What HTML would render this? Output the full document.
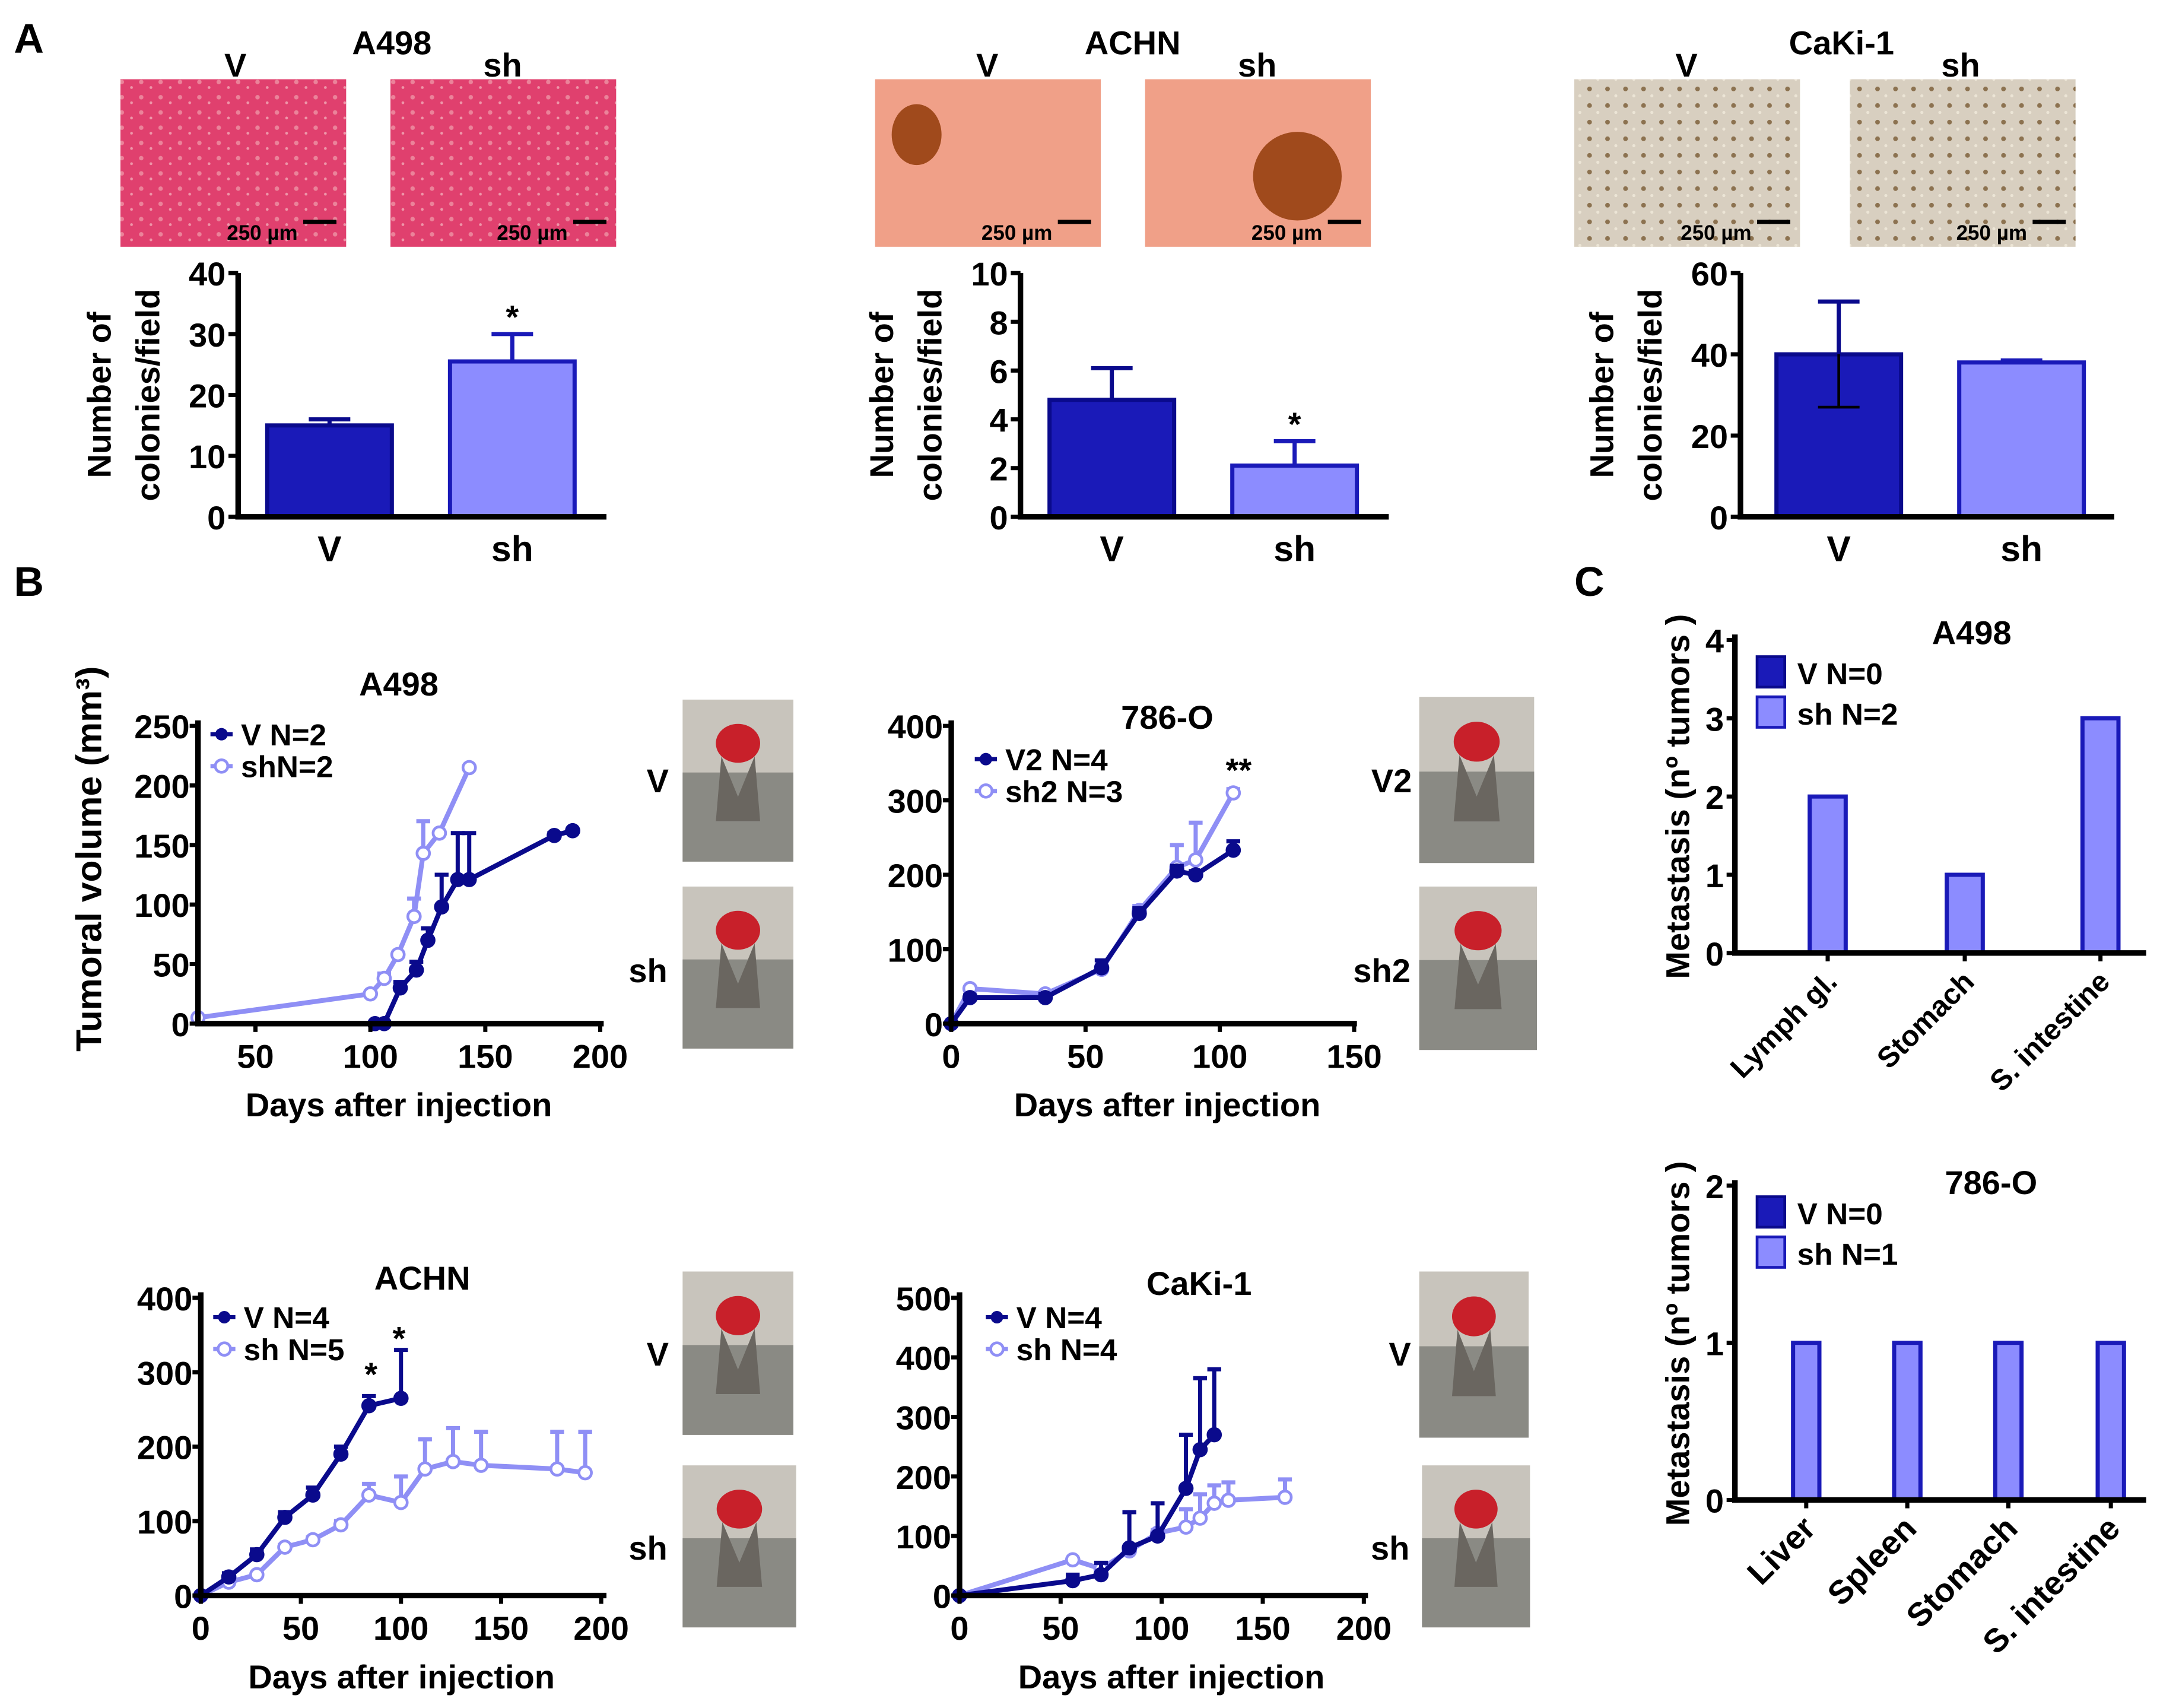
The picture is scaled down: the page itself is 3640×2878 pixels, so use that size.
<!DOCTYPE html>
<html><head><meta charset="utf-8"><style>
html,body{margin:0;padding:0;background:#fff}
svg{display:block}
text{font-family:"Liberation Sans Narrow","Liberation Sans",sans-serif;font-weight:bold;fill:#000}
</style></head><body>
<svg id="fig" width="3640" height="2878" viewBox="0 0 1560 1233" xmlns="http://www.w3.org/2000/svg">
<defs>
<pattern id="dots1" width="14" height="11" patternUnits="userSpaceOnUse"><circle cx="4" cy="4" r="1.6" fill="#f3b0b8"/><circle cx="11" cy="8" r="1" fill="#f8d0d0"/></pattern>
<pattern id="dots2" width="13" height="12" patternUnits="userSpaceOnUse"><circle cx="4" cy="4" r="1.7" fill="#6b4a20"/><circle cx="10" cy="9" r="1.1" fill="#f5efe0"/></pattern>
</defs>
<g id="root"></g>
</svg>
<script>
// ---- Panel A bar data ----
const barCats = ["V","sh"];
const a498Vals = [15, 25.5];
const a498Err = [16, 30];
const achnVals = [4.8, 2.1];
const achnErr = [6.1, 3.1];
const cakiVals = [40, 38];
const cakiErr = [53, 38.5];
const a498Ticks = [0,10,20,30,40];
const achnTicks = [0,2,4,6,8,10];
const cakiTicks = [0,20,40,60];

// ---- Panel B growth data ----
const bA498Vx = [102,106,113,120,125,131,138,143,180,188];
const bA498Vy = [0,0,30,45,70,98,121,121,158,162];
const bA498Ve = [0,0,35,52,80,125,160,160,160,162];
const bA498Sx = [25,100,106,112,119,123,130,143];
const bA498Sy = [5,25,38,58,90,143,160,215];
const bA498Se = [5,25,42,58,105,170,160,215];
const b786Vx = [0,7,35,56,70,84,91,105];
const b786Vy = [0,35,35,75,148,205,200,233];
const b786Ve = [0,38,40,85,155,212,205,245];
const b786Sx = [0,7,35,56,70,84,91,105];
const b786Sy = [0,47,40,73,152,210,220,310];
const b786Se = [0,47,42,78,158,240,270,315];
const bAchnVx = [0,14,28,42,56,70,84,100];
const bAchnVy = [0,25,55,105,135,190,255,265];
const bAchnVe = [0,30,62,112,145,200,268,330];
const bAchnSx = [0,14,28,42,56,70,84,100,112,126,140,178,192];
const bAchnSy = [0,18,28,65,75,95,135,125,170,180,175,170,165];
const bAchnSe = [0,20,30,68,78,100,150,160,210,225,220,220,220];
const bCakiVx = [0,56,70,84,98,112,119,126];
const bCakiVy = [0,25,35,80,100,180,245,270];
const bCakiVe = [0,35,55,140,155,270,365,380];
const bCakiSx = [0,56,70,84,98,112,119,126,133,161];
const bCakiSy = [0,60,45,75,105,115,130,155,160,165];
const bCakiSe = [0,60,50,80,110,145,170,185,190,195];

// ---- Panel C metastasis ----
const cA498Cats = ["Lymph gl.","Stomach","S. intestine"];
const cA498Vals = [2,1,3];
const c786Cats = ["Liver","Spleen","Stomach","S. intestine"];
const c786Vals = [1,1,1,1];

const NS="http://www.w3.org/2000/svg";
const root=document.getElementById('root');
const DARK="#1a1ab8", DARKL="#0a0a8c", LIGHT="#8c8cff", LIGHTL="#8f8ff5";
function el(tag,attrs,parent,txt){const e=document.createElementNS(NS,tag);for(const k in attrs)e.setAttribute(k,attrs[k]);if(txt!==undefined)e.textContent=txt;(parent||root).appendChild(e);return e;}
function txt(x,y,s,size,parent,anchor,rot){const t=el('text',{x:x,y:y,'font-size':size,'text-anchor':anchor||'middle'},parent,s);if(rot)t.setAttribute('transform','rotate('+rot+' '+x+' '+y+')');return t;}

// Panel letters
txt(10,38,"A",30,root,'start');
txt(10,430,"B",30,root,'start');
txt(1137,430,"C",30,root,'start');

// photos
function photo(x,y,w,h,kind,name){
  const g=el('g',{});
  
  
  if(kind==='pink'){el('rect',{x:x,y:y,width:w,height:h,fill:'#e0406e'},g);el('rect',{x:x,y:y,width:w,height:h,fill:'url(#dots1)',opacity:0.6},g);}
  else if(kind==='orange'){el('rect',{x:x,y:y,width:w,height:h,fill:'#f0a088'},g);}
  else if(kind==='gray'){el('rect',{x:x,y:y,width:w,height:h,fill:'#d8cfc0'},g);el('rect',{x:x,y:y,width:w,height:h,fill:'url(#dots2)',opacity:0.7},g);}
  else {el('rect',{x:x,y:y,width:w,height:h,fill:'#c8c4bc'},g);el('rect',{x:x,y:y+h*0.45,width:w,height:h*0.55,fill:'#8a8a84'},g);el('path',{d:`M${x+w*0.3} ${y+h*0.75} L${x+w*0.35} ${y+h*0.35} L${x+w*0.5} ${y+h*0.6} L${x+w*0.65} ${y+h*0.35} L${x+w*0.7} ${y+h*0.75}Z`,fill:'#6a6660'},g);el('ellipse',{cx:x+w*0.5,cy:y+h*0.27,rx:w*0.2,ry:h*0.12,fill:'#c8202a'},g);}
  return g;
}
const micro=[[87,57,'pink'],[282,57,'pink'],[632,57,'orange'],[827,57,'orange'],[1137,57,'gray'],[1336,57,'gray']];
micro.forEach((m,i)=>{const g=photo(m[0],m[1],163,121,m[2],'colony-photo-'+i);
  el('line',{x1:m[0]+132,y1:m[1]+103,x2:m[0]+156,y2:m[1]+103,stroke:'#000','stroke-width':3},g);
  txt(m[0]+128,m[1]+116,"250 µm",15,g,'end');
  if(m[2]==='orange'){el('ellipse',{cx:m[0]+(i===3?110:30),cy:m[1]+(i===3?70:40),rx:i===3?32:18,ry:i===3?32:22,fill:'#a04a1c'},g);}
});
[[170,"V"],[283,"A498"],[363,"sh"],[713,"V"],[818,"ACHN"],[908,"sh"],[1218,"V"],[1330,"CaKi-1"],[1416,"sh"]].forEach((l,i)=>{txt(l[0],i%3===1?39:55,l[1],24);});
const tumors=[[493,505,80,117],[493,640,80,117],[1025,503,83,120],[1025,640,85,118],[493,918,80,118],[493,1058,82,117],[1025,918,79,120],[1027,1058,78,117]];
tumors.forEach((t,i)=>photo(t[0],t[1],t[2],t[3],'tumor','tumor-photo-'+i));
[[475,572,"V"],[468,709,"sh"],[1005,572,"V2"],[998,709,"sh2"],[475,986,"V"],[468,1126,"sh"],[1011,986,"V"],[1004,1126,"sh"]].forEach((l,i)=>{txt(l[0],l[1],l[2],24);});

// ---- bar charts ----
function barChart(ax,x0,x1,y0,y1,ticks,vals,errs,barX,name,stars,twoSided){
  const g=el('g',{});
  
  
  const maxT=ticks[ticks.length-1];
  const sy=v=>y0-(v/maxT)*(y0-y1);
  vals.forEach((v,i)=>{
    const bx=barX[i];
    const top=sy(errs[i]);
    const ew=el('line',{x1:bx+45,y1:sy(v),x2:bx+45,y2:top,stroke:i?DARK:DARKL,'stroke-width':3},g);
    el('line',{x1:bx+30,y1:top,x2:bx+60,y2:top,stroke:i?DARK:DARKL,'stroke-width':3},g);
    const r=el('rect',{x:bx,y:sy(v),width:90,height:y0-sy(v),fill:i?LIGHT:DARK,stroke:i?DARK:DARKL,'stroke-width':3},g);
    
    
    if(twoSided&&i===0){const lo=sy(2*v-errs[i]);el('line',{x1:bx+45,y1:sy(v),x2:bx+45,y2:lo,stroke:'#000','stroke-width':2},g);el('line',{x1:bx+30,y1:lo,x2:bx+60,y2:lo,stroke:'#000','stroke-width':2},g);}
    if(stars[i])txt(bx+45,top-4,stars[i],24,g);
    txt(bx+45,405,barCats[i],26,g);
  });
  el('line',{x1:ax,y1:y1,x2:ax,y2:y0+2,stroke:'#000','stroke-width':4},g);
  el('line',{x1:ax-2,y1:y0,x2:x1,y2:y0,stroke:'#000','stroke-width':4},g);
  ticks.forEach(t=>{el('line',{x1:ax-7,y1:sy(t),x2:ax,y2:sy(t),stroke:'#000','stroke-width':3},g);txt(ax-9,sy(t)+9,String(t),24,g,'end');});
  txt(ax-92,285,"Number of",24,g,'middle',-90);
  txt(ax-57,285,"colonies/field",24,g,'middle',-90);
}
barChart(172,172,438,373,197,a498Ticks,a498Vals,a498Err,[193,325],'bar-chart-a498',['','*'],false);
barChart(737,737,1003,373,197,achnTicks,achnVals,achnErr,[758,890],'bar-chart-achn',['','*'],false);
barChart(1257,1257,1527,373,197,cakiTicks,cakiVals,cakiErr,[1283,1415],'bar-chart-caki1',['',''],true);

// ---- growth charts ----
function growth(o){
  const g=el('g',{});
  
  
  const sx=d=>o.ax+(d-o.xmin)*o.kx;
  const sy=v=>o.y0-v*o.ky;
  const series=[[o.sx,o.sy,o.se,LIGHT,LIGHTL,false,'sh'],[o.vx,o.vy,o.ve,DARK,DARKL,true,'v']];
  series.forEach(s=>{
    const [xs,ys,es,col,lc,filled,nm]=s;
    xs.forEach((d,i)=>{if(es[i]>ys[i]+1){el('line',{x1:sx(d),y1:sy(ys[i]),x2:sx(d),y2:sy(es[i]),stroke:filled?DARKL:LIGHTL,'stroke-width':3},g);el('line',{x1:sx(d)-5,y1:sy(es[i]),x2:sx(d)+5,y2:sy(es[i]),stroke:filled?DARKL:LIGHTL,'stroke-width':3},g);}});
    const pl=el('polyline',{points:xs.map((d,i)=>sx(d)+','+sy(ys[i])).join(' '),fill:'none',stroke:filled?DARKL:LIGHTL,'stroke-width':3.5},g);
    
    
    xs.forEach((d,i)=>{const c=el('circle',{cx:sx(d),cy:sy(ys[i]),r:filled?4.5:4.5,fill:filled?DARKL:'#fff',stroke:filled?DARKL:LIGHTL,'stroke-width':2},g);
      
      });
  });
  el('line',{x1:o.ax,y1:o.ytop,x2:o.ax,y2:o.y0+2,stroke:'#000','stroke-width':4},g);
  el('line',{x1:o.ax-2,y1:o.y0,x2:o.xend,y2:o.y0,stroke:'#000','stroke-width':4},g);
  o.yt.forEach(t=>{el('line',{x1:o.ax-6,y1:sy(t),x2:o.ax,y2:sy(t),stroke:'#000','stroke-width':3},g);txt(o.ax-6,sy(t)+9,String(t),24,g,'end');});
  o.xt.forEach(t=>{el('line',{x1:sx(t),y1:o.y0,x2:sx(t),y2:o.y0+6,stroke:'#000','stroke-width':3},g);txt(sx(t),o.y0+32,String(t),24,g);});
  txt(o.tx,o.ty,o.title,24,g);
  txt(o.xlx,o.y0+67,"Days after injection",24,g);
  // legend
  el('line',{x1:o.lx,y1:o.ly-8,x2:o.lx+16,y2:o.ly-8,stroke:DARKL,'stroke-width':3},g);
  el('circle',{cx:o.lx+8,cy:o.ly-8,r:4.5,fill:DARKL},g);
  txt(o.lx+22,o.ly,o.l1,22,g,'start');
  el('line',{x1:o.lx,y1:o.ly+15,x2:o.lx+16,y2:o.ly+15,stroke:LIGHTL,'stroke-width':3},g);
  el('circle',{cx:o.lx+8,cy:o.ly+15,r:4.5,fill:'#fff',stroke:LIGHTL,'stroke-width':2},g);
  txt(o.lx+22,o.ly+23,o.l2,22,g,'start');
  (o.stars||[]).forEach(s=>txt(sx(s[0]),sy(s[1]),s[2],24,g));
}
growth({name:'growth-chart-a498',ax:143,xmin:25,kx:83/50,y0:739,ky:215/250,ytop:520,xend:436,yt:[0,50,100,150,200,250],xt:[50,100,150,200],
  vx:bA498Vx,vy:bA498Vy,ve:bA498Ve,sx:bA498Sx,sy:bA498Sy,se:bA498Se,title:"A498",tx:288,ty:502,xlx:288,lx:152,ly:538,l1:"V  N=2",l2:"shN=2"});
growth({name:'growth-chart-786o',ax:687,xmin:0,kx:97/50,y0:739,ky:215/400,ytop:520,xend:980,yt:[0,100,200,300,400],xt:[0,50,100,150],
  vx:b786Vx,vy:b786Vy,ve:b786Ve,sx:b786Sx,sy:b786Sy,se:b786Se,title:"786-O",tx:843,ty:526,xlx:843,lx:704,ly:556,l1:"V2  N=4",l2:"sh2  N=3",stars:[[107,325,"**"]]});
growth({name:'growth-chart-achn',ax:145,xmin:0,kx:72.3/50,y0:1152,ky:215/400,ytop:933,xend:438,yt:[0,100,200,300,400],xt:[0,50,100,150,200],
  vx:bAchnVx,vy:bAchnVy,ve:bAchnVe,sx:bAchnSx,sy:bAchnSy,se:bAchnSe,title:"ACHN",tx:305,ty:931,xlx:290,lx:154,ly:959,l1:"V  N=4",l2:"sh N=5",stars:[[85,282,"*"],[99,330,"*"]]});
growth({name:'growth-chart-caki1',ax:693,xmin:0,kx:73/50,y0:1152,ky:215/500,ytop:933,xend:988,yt:[0,100,200,300,400,500],xt:[0,50,100,150,200],
  vx:bCakiVx,vy:bCakiVy,ve:bCakiVe,sx:bCakiSx,sy:bCakiSy,se:bCakiSe,title:"CaKi-1",tx:866,ty:935,xlx:846,lx:712,ly:959,l1:"V  N=4",l2:"sh N=4"});
txt(73,620,"Tumoral volume (mm³)",26,root,'middle',-90);

// ---- panel C ----
function metChart(o){
  const g=el('g',{});
  
  
  const sy=v=>o.y0-v*o.k;
  o.vals.forEach((v,i)=>{const r=el('rect',{x:o.bx[i],y:sy(v),width:o.bw,height:o.y0-sy(v),fill:LIGHT,stroke:DARK,'stroke-width':3},g);
    
    
    const cx=o.bx[i]+o.bw/2;
    el('line',{x1:cx,y1:o.y0,x2:cx,y2:o.y0+6,stroke:'#000','stroke-width':3},g);
    txt(cx+8,o.y0+22,o.cats[i],o.fs,g,'end',-45);});
  el('line',{x1:o.ax,y1:o.ytop,x2:o.ax,y2:o.y0+2,stroke:'#000','stroke-width':4},g);
  el('line',{x1:o.ax-2,y1:o.y0,x2:1550,y2:o.y0,stroke:'#000','stroke-width':4},g);
  o.ticks.forEach(t=>{el('line',{x1:o.ax-6,y1:sy(t),x2:o.ax,y2:sy(t),stroke:'#000','stroke-width':3},g);txt(o.ax-8,sy(t)+9,String(t),24,g,'end');});
  txt(o.tx,o.ty,o.title,24,g);
  el('rect',{x:1269,y:o.ly-20,width:20,height:22,fill:DARK,stroke:DARKL,'stroke-width':2},g);
  txt(1298,o.ly,o.l1,22,g,'start');
  el('rect',{x:1269,y:o.ly+9,width:20,height:22,fill:LIGHT,stroke:DARK,'stroke-width':2},g);
  txt(1298,o.ly+29,o.l2,22,g,'start');
  txt(1220,o.ycy,"Metastasis (nº tumors )",24,g,'middle',-90);
}
metChart({name:'metastasis-chart-a498',ax:1253,y0:688,k:56.5,ytop:458,vals:cA498Vals,cats:cA498Cats,bx:[1307,1406,1504],bw:26,ticks:[0,1,2,3,4],title:"A498",tx:1424,ty:465,ly:494,l1:"V   N=0",l2:"sh  N=2",ycy:575,fs:21});
metChart({name:'metastasis-chart-786o',ax:1253,y0:1083,k:113.5,ytop:852,vals:c786Vals,cats:c786Cats,bx:[1295,1368,1441,1515],bw:19,ticks:[0,1,2],title:"786-O",tx:1438,ty:862,ly:884,l1:"V    N=0",l2:"sh  N=1",ycy:970,fs:24});
</script>
</body></html>
